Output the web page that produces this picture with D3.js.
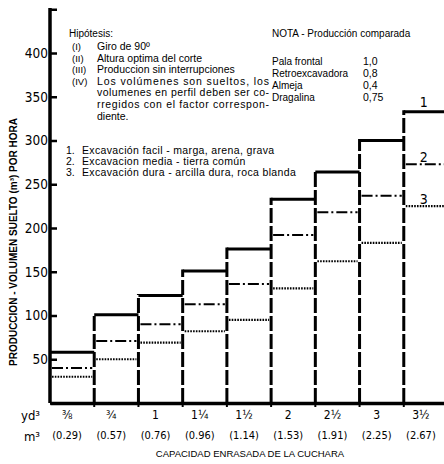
<!DOCTYPE html>
<html>
<head>
<meta charset="utf-8">
<script src="https://cdn.jsdelivr.net/npm/d3@7"></script>
<style>
  body { margin: 0; background: #fff; }
  svg { display: block; font-family: 'Liberation Sans', Arial, sans-serif; }
  .tick-num { font-family: 'DejaVu Sans Condensed', 'Liberation Sans Narrow', sans-serif; }
</style>
</head>
<body>
<svg></svg>
<script>

// bucket capacity (yd3 and m3)
let ydLabels = ['⅜', '¾', '1', '1¼', '1½', '2', '2½', '3', '3½']
let m3Labels = ['(0.29)', '(0.57)', '(0.76)', '(0.96)', '(1.14)', '(1.53)', '(1.91)', '(2.25)', '(2.67)']

// production per hour, m3 loose volume
let easyDig = [58, 101, 123, 151, 176, 233, 264, 300, 333]     // 1. excavacion facil
let mediumDig = [40, 71, 90, 113, 136, 192, 218, 237, 273]     // 2. excavacion media
let hardDig = [30, 50, 69, 82, 95, 131, 162, 183, 225]         // 3. excavacion dura

let yTicks = [0, 50, 100, 150, 200, 250, 300, 350, 400, 450]

let hypothesis = [
    ['(I)', 'Giro de 90º'],
    ['(II)', 'Altura optima del corte'],
    ['(III)', 'Produccion sin interrupciones'],
    ['(IV)', 'Los volúmenes son sueltos, los'],
    ['', 'volumenes en perfil deben ser co-'],
    ['', 'rregidos con el factor correspon-'],
    ['', 'diente.']
]
let digTypes = [
    ['1.', 'Excavación facil - marga, arena, grava'],
    ['2.', 'Excavacion media - tierra común'],
    ['3.', 'Excavación dura - arcilla dura, roca blanda']
]
let machines = ['Pala frontal', 'Retroexcavadora', 'Almeja', 'Dragalina']
let machineFactor = ['1,0', '0,8', '0,4', '0,75']

let width = 444
let height = 464

let xScale
let yScale

let svg = d3.select('svg')

let drawCanvas = () => {
    svg.attr('width', width)
       .attr('height', height)
}

let drawScale = () => {
    xScale = d3.scaleBand()
               .domain(ydLabels)
               .range([50, 448])
               .paddingInner(0)

    yScale = d3.scaleLinear()
               .domain([0, 450])
               .range([403, 9.25])
}

let drawBars = () => {
    let bw = xScale.bandwidth()

    // step tops, series 1
    svg.selectAll('.top1')
        .data(easyDig)
        .enter()
        .append('line')
        .attr('x1', (d, i) => xScale(ydLabels[i]))
        .attr('x2', (d, i) => xScale(ydLabels[i]) + bw)
        .attr('y1', (d) => yScale(d))
        .attr('y2', (d) => yScale(d))
        .attr('stroke', '#000')
        .attr('stroke-width', 3)

    // vertical walls between bars
    svg.selectAll('.wall')
        .data(ydLabels.slice(1))
        .enter()
        .append('line')
        .attr('x1', (d) => xScale(d))
        .attr('x2', (d) => xScale(d))
        .attr('y1', yScale(0))
        .attr('y2', (d, i) => yScale(Math.max(easyDig[i], easyDig[i + 1])) - 1.5)
        .attr('stroke', '#000')
        .attr('stroke-width', 3)
        .attr('stroke-dasharray', '15,3')

    // series 2, dash dot
    svg.selectAll('.mid2')
        .data(mediumDig)
        .enter()
        .append('line')
        .attr('x1', (d, i) => xScale(ydLabels[i]) + 2)
        .attr('x2', (d, i) => xScale(ydLabels[i]) + bw - 2)
        .attr('y1', (d) => yScale(d))
        .attr('y2', (d) => yScale(d))
        .attr('stroke', '#000')
        .attr('stroke-width', 2)
        .attr('stroke-dasharray', '11,3,2,3')

    // series 3, dotted
    svg.selectAll('.hard3')
        .data(hardDig)
        .enter()
        .append('line')
        .attr('x1', (d, i) => xScale(ydLabels[i]) + 2)
        .attr('x2', (d, i) => xScale(ydLabels[i]) + bw - 2)
        .attr('y1', (d) => yScale(d))
        .attr('y2', (d) => yScale(d))
        .attr('stroke', '#000')
        .attr('stroke-width', 2.2)
        .attr('stroke-dasharray', '1.6,1.2')

    // series numbers over the last bar
    let last = ydLabels[ydLabels.length - 1]
    let lastVals = [easyDig[8], mediumDig[8], hardDig[8]]
    svg.selectAll('.serieslabel')
        .data(lastVals)
        .enter()
        .append('text')
        .attr('class', 'tick-num')
        .attr('x', xScale(last) + 20)
        .attr('y', (d, i) => yScale(d) - (i == 0 ? 5 : 2))
        .attr('text-anchor', 'middle')
        .attr('font-size', 14)
        .text((d, i) => i + 1)
}

let drawAxis = () => {
    let yAxis = d3.axisLeft(yScale)
                  .tickValues(yTicks)
                  .tickSize(-7)
                  .tickSizeOuter(0)
                  .tickPadding(2)
                  .tickFormat((d) => (d == 0 || d == 450) ? '' : d)

    let gy = svg.append('g')
        .attr('id', 'y-axis')
        .attr('transform', 'translate(50,0)')
        .call(yAxis)
    gy.select('.domain').attr('stroke-width', 3.5)
    gy.selectAll('.tick line').attr('stroke-width', 2.5)
    gy.selectAll('.tick text')
        .attr('class', 'tick-num')
        .attr('font-size', 13.5)
        .attr('fill', '#000')
    gy.select('.domain').attr('d', 'M0,' + yScale(0) + 'V8')

    // x axis, first row in yd3
    let xAxis = d3.axisBottom(xScale)
                  .tickSize(0)
                  .tickSizeOuter(0)
                  .tickPadding(7)

    let gx = svg.append('g')
        .attr('id', 'x-axis')
        .attr('transform', 'translate(0,' + yScale(0) + ')')
        .call(xAxis)
    gx.select('.domain').attr('stroke-width', 3.5)
    gx.selectAll('.tick text')
        .attr('class', 'tick-num')
        .attr('font-size', 12)
        .attr('dx', -5)
        .attr('fill', '#000')

    // small marks under the axis at bar edges
    gx.selectAll('.edge')
        .data(ydLabels.slice(1))
        .enter()
        .append('line')
        .attr('x1', (d) => xScale(d))
        .attr('x2', (d) => xScale(d))
        .attr('y1', 0)
        .attr('y2', 4)
        .attr('stroke', '#000')
        .attr('stroke-width', 2)

    // second row in m3
    let xAxisM3 = d3.axisBottom(xScale)
                    .tickSize(0)
                    .tickSizeOuter(0)
                    .tickPadding(28)
                    .tickFormat((d, i) => m3Labels[i])

    let gx2 = svg.append('g')
        .attr('transform', 'translate(0,' + yScale(0) + ')')
        .call(xAxisM3)
    gx2.select('.domain').remove()
    gx2.selectAll('.tick text')
        .attr('class', 'tick-num')
        .attr('font-size', 11)
        .attr('dx', -5)
        .attr('fill', '#000')

    svg.append('text')
        .attr('class', 'tick-num')
        .attr('x', 40).attr('y', 420)
        .attr('text-anchor', 'end')
        .attr('font-size', 13)
        .text('yd³')
    svg.append('text')
        .attr('class', 'tick-num')
        .attr('x', 40).attr('y', 441)
        .attr('text-anchor', 'end')
        .attr('font-size', 13)
        .text('m³')

    svg.append('text')
        .attr('x', 250).attr('y', 457)
        .attr('text-anchor', 'middle')
        .attr('font-size', 9.5)
        .text('CAPACIDAD ENRASADA DE LA CUCHARA')

    svg.append('text')
        .attr('transform', 'translate(17,242) rotate(-90)')
        .attr('text-anchor', 'middle')
        .attr('font-size', 10)
        .attr('font-weight', 'bold')
        .text('PRODUCCION - VOLUMEN SUELTO (m³) POR HORA')
}

let drawNotes = () => {
    svg.append('text')
        .attr('x', 69).attr('y', 37)
        .attr('font-size', 10)
        .text('Hipótesis:')

    let hyp = svg.selectAll('.hyp')
        .data(hypothesis)
        .enter()
        .append('g')
        .attr('transform', (d, i) => 'translate(0,' + (50 + i * 11.6) + ')')
    hyp.append('text')
        .attr('x', 72)
        .attr('font-size', 9.5)
        .text((d) => d[0])
    hyp.append('text')
        .attr('x', 97)
        .attr('font-size', 10.5)
        .attr('textLength', (d, i) => (i >= 3 && i <= 5) ? 172 : null)
        .attr('lengthAdjust', 'spacing')
        .text((d) => d[1])

    let types = svg.selectAll('.types')
        .data(digTypes)
        .enter()
        .append('g')
        .attr('transform', (d, i) => 'translate(0,' + (154 + i * 11) + ')')
    types.append('text')
        .attr('x', 66)
        .attr('font-size', 10.5)
        .text((d) => d[0])
    types.append('text')
        .attr('x', 82)
        .attr('font-size', 10.5)
        .attr('letter-spacing', 0.35)
        .text((d) => d[1])

    svg.append('text')
        .attr('x', 272).attr('y', 37)
        .attr('font-size', 10)
        .text('NOTA - Producción comparada')

    svg.selectAll('.machine')
        .data(machines)
        .enter()
        .append('text')
        .attr('x', 272)
        .attr('y', (d, i) => 65 + i * 12)
        .attr('font-size', 10)
        .text((d) => d)

    svg.selectAll('.factor')
        .data(machineFactor)
        .enter()
        .append('text')
        .attr('x', 363)
        .attr('y', (d, i) => 65 + i * 12)
        .attr('font-size', 10.5)
        .text((d) => d)
}

drawCanvas()
drawScale()
drawBars()
drawAxis()
drawNotes()
</script>
</body>
</html>
